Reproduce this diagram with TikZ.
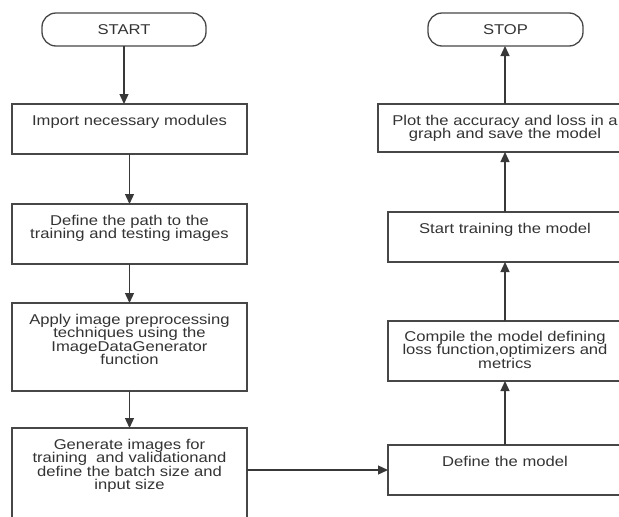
\documentclass[tikz,border=0pt]{standalone}
\usepackage{fontspec}
\setmainfont[FakeStretch=1.17]{Liberation Sans}
\usetikzlibrary{arrows.meta,calc}
\begin{document}
\begin{tikzpicture}[x=1pt,y=-1pt,
  boxline/.style={draw=black!72,line width=1.3pt,inner sep=0pt,outer sep=0pt,anchor=north west},
  termbox/.style={boxline,rounded corners=14pt,minimum height=33pt,
    font=\fontsize{14.2}{13.5}\selectfont,text=black!80},
  stepbox/.style={boxline},
  txt/.style={anchor=north,inner sep=0pt,align=center,text=black!80,
    font=\fontsize{14.2}{13.5}\selectfont},
  flow/.style={draw=black!78,line width=1.3pt,-{Triangle[length=10pt,width=9pt]}}]
\path[use as bounding box] (0,0) rectangle (619,517);
\clip (0,0) rectangle (619,517);
% left column
\node[termbox,minimum width=164pt] (start) at (42,13) {START};
\node[stepbox,minimum width=235pt,minimum height=50pt] (b1) at (12,104) {};
\node[stepbox,minimum width=235pt,minimum height=60pt] (b2) at (12,204) {};
\node[stepbox,minimum width=235pt,minimum height=88pt] (b3) at (12,303) {};
\node[stepbox,minimum width=235pt,minimum height=110pt] (b4) at (12,428) {};
% right column
\node[termbox,minimum width=155pt] (stop) at (428,13) {STOP};
\node[stepbox,minimum width=254pt,minimum height=48pt] (plot) at (378,104) {};
\node[stepbox,minimum width=234pt,minimum height=50pt] (train) at (388,212) {};
\node[stepbox,minimum width=234pt,minimum height=60pt] (compile) at (388,321) {};
\node[stepbox,minimum width=234pt,minimum height=50pt] (define) at (388,445) {};
% texts
\node[txt] (t1) at ($(b1.north)+(0,11)$) {Import necessary modules};
\node[txt] (t2) at ($(b2.north)+(0,11)$) {Define the path to the\\training and testing images};
\node[txt] (t3) at ($(b3.north)+(0,11)$) {Apply image preprocessing\\techniques using the\\ImageDataGenerator\\function};
\node[txt] (t4) at ($(b4.north)+(0,11)$) {Generate images for\\training \ and validationand\\define the batch size and\\input size};
\node[txt] (t5) at ($(plot.north)+(0,11)$) {Plot the accuracy and loss in a\\graph and save the model};
\node[txt] (t6) at ($(train.north)+(0,11)$) {Start training the model};
\node[txt] (t7) at ($(compile.north)+(0,10)$) {Compile the model defining\\loss function,optimizers and\\metrics};
\node[txt] (t8) at ($(define.north)+(0,11)$) {Define the model};
% connectors
\draw[flow] (start.south) -- (start.south |- b1.north);
\draw[flow] (b1.south) -- (b2.north);
\draw[flow] (b2.south) -- (b3.north);
\draw[flow] (b3.south) -- (b4.north);
\draw[flow] (define.west -| b4.east) -- (define.west);
\draw[flow] (define.north) -- (compile.south);
\draw[flow] (compile.north) -- (train.south);
\draw[flow] (train.north) -- (plot.south);
\draw[flow] (plot.north) -- (plot.north |- stop.south);
\end{tikzpicture}
\end{document}
